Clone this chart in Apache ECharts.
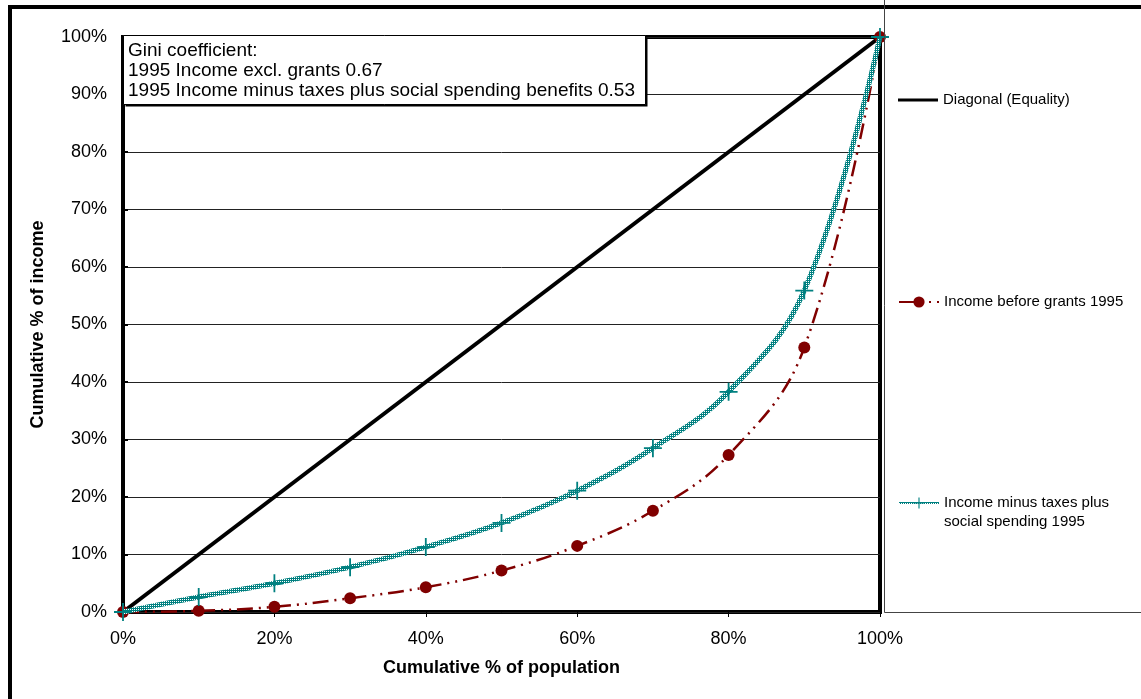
<!DOCTYPE html>
<html><head><meta charset="utf-8">
<script src="https://cdn.jsdelivr.net/npm/echarts@6/dist/echarts.min.js"></script>
<style>html,body{margin:0;padding:0;background:#fff}#c{width:1141px;height:699px}</style>
</head><body><div id="c"></div>
<script>
// ---- data (cumulative %) ----
const populationPct = [0, 10, 20, 30, 40, 50, 60, 70, 80, 90, 100];
const diagonalX = [0, 100];
const diagonalY = [0, 100];
const incomeBeforeGrants = [0, 0.2, 0.9, 2.4, 4.3, 7.2, 11.5, 17.6, 27.3, 46.0, 100];
const incomeMinusTaxesPlusSpending = [0, 2.6, 5.0, 7.8, 11.3, 15.5, 21.1, 28.5, 38.3, 55.9, 100];
const seriesNames = ['Diagonal (Equality)', 'Income before grants 1995', 'Income minus taxes plus\nsocial spending 1995'];
const giniLines = ['Gini coefficient:', '1995 Income excl. grants 0.67', '1995 Income minus taxes plus social spending benefits 0.53'];
const xTitle = 'Cumulative % of population';
const yTitle = 'Cumulative % of income';

const FONT = "'Liberation Sans', Arial, sans-serif";
const TEAL = '#008080';
const RED = '#800000';

const pc = document.createElement('canvas');
pc.width = 2; pc.height = 2;
const pctx = pc.getContext('2d');
pctx.fillStyle = '#ffffff'; pctx.fillRect(0, 0, 2, 2);
pctx.fillStyle = TEAL; pctx.fillRect(0, 0, 1, 1); pctx.fillRect(1, 1, 1, 1); pctx.fillRect(1, 0, 1, 1);
const tealPattern = { image: pc, repeat: 'repeat' };

const zip = (xs, ys) => xs.map((x, i) => [x, ys[i]]);
const PLUS = 'path://M9,0h2v9h9v2h-9v9h-2v-9h-9v-2h9z';

const chart = echarts.init(document.getElementById('c'), null, { renderer: 'canvas' });
const legendText = { fontSize: 15, lineHeight: 19, color: '#000', fontFamily: FONT };
chart.setOption({
  animation: false,
  backgroundColor: '#fff',
  grid: { left: 123, right: 261, top: 37, bottom: 87, show: true, borderColor: '#000', borderWidth: 4, backgroundColor: 'transparent' },
  xAxis: {
    type: 'value', min: 0, max: 100, interval: 20,
    name: xTitle, nameLocation: 'middle', nameGap: 47,
    nameTextStyle: { fontSize: 18, fontWeight: 'bold', color: '#000', fontFamily: FONT },
    axisLine: { show: false },
    axisTick: { show: true, inside: false, length: 5, lineStyle: { color: '#000', width: 1 } },
    axisLabel: { formatter: '{value}%', fontSize: 18, color: '#000', fontFamily: FONT, margin: 18 },
    splitLine: { show: false }
  },
  yAxis: {
    type: 'value', min: 0, max: 100, interval: 10,
    name: yTitle, nameLocation: 'middle', nameGap: 76, nameRotate: 90,
    nameTextStyle: { fontSize: 18, fontWeight: 'bold', color: '#000', fontFamily: FONT },
    axisLine: { show: false },
    axisTick: { show: true, inside: true, length: 5, lineStyle: { color: '#000', width: 2 } },
    axisLabel: { formatter: '{value}%', fontSize: 18, color: '#000', fontFamily: FONT, margin: 16 },
    splitLine: { show: true, lineStyle: { color: '#222', width: 1 } }
  },
  legend: [
    { data: [{ name: seriesNames[0], icon: 'rect', itemStyle: { color: '#000' } }], left: 898, top: 90.5, padding: 0, itemWidth: 40, itemHeight: 3, selectedMode: false, textStyle: legendText },
    { data: [seriesNames[1]], left: 898, top: 292.5, padding: 0, itemWidth: 40, itemHeight: 14, selectedMode: false, textStyle: legendText },
    { data: [seriesNames[2]], left: 898, top: 474.5, padding: 0, itemWidth: 40, itemHeight: 14, selectedMode: false, textStyle: legendText,
      formatter: function (n) { return '\u00a0\n' + n; } }
  ],
  series: [
    {
      name: seriesNames[0], type: 'line', data: zip(diagonalX, diagonalY),
      showSymbol: false, symbol: 'none',
      lineStyle: { color: '#000', width: 4 }, itemStyle: { color: '#000' },
      silent: true, z: 2
    },
    {
      name: seriesNames[1], type: 'line', data: zip(populationPct, incomeBeforeGrants),
      smooth: 0.4, symbol: 'circle', symbolSize: 12, clip: false,
      lineStyle: { color: RED, width: 2.5, type: [16, 6, 2, 6, 2, 6] },
      itemStyle: { color: RED },
      silent: true, z: 3
    },
    {
      name: seriesNames[2], type: 'line', data: zip(populationPct, incomeMinusTaxesPlusSpending),
      smooth: 0.4, symbol: PLUS, symbolSize: 18, clip: false,
      lineStyle: { color: tealPattern, width: 5 },
      itemStyle: { color: TEAL },
      silent: true, z: 4
    }
  ],
  graphic: [
    { type: 'rect', z: 50, silent: true, shape: { x: 10, y: 7, width: 1300, height: 900 }, style: { fill: 'none', stroke: '#000', lineWidth: 4 } },
    { type: 'rect', z: 50, silent: true, shape: { x: 884.5, y: -10, width: 400, height: 622.5 }, style: { fill: 'none', stroke: '#444', lineWidth: 1 } },
    { type: 'rect', z: 60, silent: true, shape: { x: 125.5, y: 37.5, width: 522, height: 69 }, style: { fill: '#000' } },
    { type: 'rect', z: 61, silent: true, shape: { x: 123.5, y: 35.5, width: 522, height: 69 }, style: { fill: '#fff', stroke: '#000', lineWidth: 1 } },
    { type: 'text', z: 62, silent: true, x: 128, y: 40.5, style: { text: giniLines.join('\n'), font: '19px ' + FONT, lineHeight: 20, fill: '#000', verticalAlign: 'top', align: 'left' } }
  ]
});
</script></body></html>
